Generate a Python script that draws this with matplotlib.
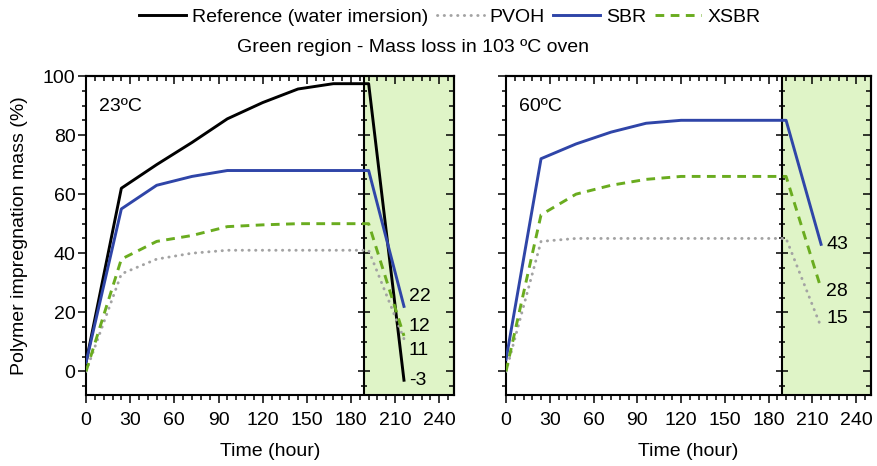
import matplotlib
matplotlib.use('Agg')
import matplotlib.pyplot as plt
from matplotlib.ticker import MultipleLocator

plt.rcParams['font.family'] = ['Liberation Sans', 'DejaVu Sans']
plt.rcParams['font.size'] = 14

# ---------------- data ----------------
times = [0, 24, 48, 72, 96, 120, 144, 168, 192, 216]
oven_start = 189

ref_23 = [3, 62, 70, 77.5, 85.5, 91, 95.6, 97.4, 97.4, -3]
pvoh_23 = [0, 33, 38, 40, 41, 41, 41, 41, 41, 11]
sbr_23 = [3, 55, 63, 66, 68, 68, 68, 68, 68, 22]
xsbr_23 = [0, 38, 44, 46, 49, 49.6, 50, 50, 50, 12]

pvoh_60 = [0, 44, 45, 45, 45, 45, 45, 45, 45, 15]
sbr_60 = [4, 72, 77, 81, 84, 85, 85, 85, 85, 43]
xsbr_60 = [0, 53, 60, 63, 65, 66, 66, 66, 66, 28]

panel_titles = ["23ºC", "60ºC"]
legend_labels = ["Reference (water imersion)", "PVOH", "SBR", "XSBR"]

# ---------------- styles ----------------
C_REF = 'black'
C_PVOH = '#A3A3A3'
C_SBR = '#2F45A8'
C_XSBR = '#6AAC1F'
C_FILL = '#DFF4C7'

fig = plt.figure(figsize=(8.77, 4.66), dpi=100)
axL = fig.add_axes([0.0981, 0.1524, 0.4196, 0.6845])
axR = fig.add_axes([0.577, 0.1524, 0.4158, 0.6845])


def style_axis(ax, show_ylabels):
    ax.set_xlim(0, 250)
    ax.set_ylim(-8, 100)
    ax.axvspan(oven_start, 250, color=C_FILL, lw=0, zorder=0)
    ax.axvline(oven_start, color='black', lw=1.5, zorder=1)
    majors = [0, 20, 40, 60, 80, 100]
    minors = [-5, 5, 10, 15, 25, 30, 35, 45, 50, 55, 65, 70, 75, 85, 90, 95]
    ax.plot([oven_start] * len(majors), majors, ls='none', marker='_', ms=9,
            mew=1.1, color='black', zorder=1)
    ax.plot([oven_start] * len(minors), minors, ls='none', marker='_', ms=5,
            mew=1.1, color='black', zorder=1)
    for s in ax.spines.values():
        s.set_linewidth(1.5)
    ax.xaxis.set_major_locator(MultipleLocator(30))
    ax.xaxis.set_minor_locator(MultipleLocator(6))
    ax.yaxis.set_major_locator(MultipleLocator(20))
    ax.yaxis.set_minor_locator(MultipleLocator(5))
    ax.tick_params(axis='x', which='major', direction='out', length=6, width=1.1, pad=6)
    ax.tick_params(axis='x', which='minor', direction='out', length=3.5, width=1.1)
    ax.tick_params(axis='y', which='major', direction='out', length=5.5, width=1.1, pad=2)
    ax.tick_params(axis='y', which='minor', direction='out', length=3, width=1.1)
    if not show_ylabels:
        ax.tick_params(axis='y', labelleft=False)
    top = ax.secondary_xaxis('top')
    top.xaxis.set_major_locator(MultipleLocator(30))
    top.xaxis.set_minor_locator(MultipleLocator(6))
    top.tick_params(which='major', direction='in', length=6, width=1.1, labeltop=False)
    top.tick_params(which='minor', direction='in', length=3.5, width=1.1)
    top.spines['top'].set_linewidth(1.5)
    right = ax.secondary_yaxis('right')
    right.yaxis.set_major_locator(MultipleLocator(20))
    right.yaxis.set_minor_locator(MultipleLocator(5))
    right.tick_params(which='major', direction='in', length=6, width=1.1, labelright=False)
    right.tick_params(which='minor', direction='in', length=3.5, width=1.1)
    right.spines['right'].set_linewidth(1.5)
    ax.set_xlabel("Time (hour)", labelpad=10)


style_axis(axL, True)
style_axis(axR, False)
axL.set_ylabel("Polymer impregnation mass (%)", labelpad=11)

lw = 2.1
dot_style = (0, (0.1, 2.2))
dash_style = (0, (3.0, 2.2))
# left panel
h_ref, = axL.plot(times, ref_23, color=C_REF, lw=lw, zorder=3)
h_pvoh, = axL.plot(times, pvoh_23, color=C_PVOH, lw=lw, ls=dot_style,
                   dash_capstyle='round', zorder=3)
h_sbr, = axL.plot(times, sbr_23, color=C_SBR, lw=lw, zorder=3)
h_xsbr, = axL.plot(times, xsbr_23, color=C_XSBR, lw=lw, ls=dash_style, zorder=3)

# right panel
axR.plot(times, pvoh_60, color=C_PVOH, lw=lw, ls=dot_style,
         dash_capstyle='round', zorder=3)
axR.plot(times, sbr_60, color=C_SBR, lw=lw, zorder=3)
axR.plot(times, xsbr_60, color=C_XSBR, lw=lw, ls=dash_style, zorder=3)

# end-value labels (offsets in pixels)
left_ends = [(sbr_23, (5, 10)), (xsbr_23, (5, 9)), (pvoh_23, (5, -12)), (ref_23, (5, 0))]
right_ends = [(sbr_60, (5, 0)), (xsbr_60, (5, -3)), (pvoh_60, (5, 9))]
for ax, ends in ((axL, left_ends), (axR, right_ends)):
    for series, off in ends:
        ax.annotate(f"{series[-1]:g}", xy=(times[-1], series[-1]), xytext=off,
                    textcoords='offset pixels', ha='left', va='center', zorder=4)

for ax, t in zip((axL, axR), panel_titles):
    ax.text(0.035, 0.905, t, transform=ax.transAxes, ha='left', va='center')

fig.legend([h_ref, h_pvoh, h_sbr, h_xsbr], legend_labels, loc='center',
           bbox_to_anchor=(0.513, 0.9635), ncol=4, frameon=False,
           handlelength=2.4, handletextpad=0.3, columnspacing=0.45, borderaxespad=0)
fig.text(0.471, 0.897, "Green region - Mass loss in 103 ºC oven", ha='center', va='center')

fig.savefig('out.png', dpi=100)
